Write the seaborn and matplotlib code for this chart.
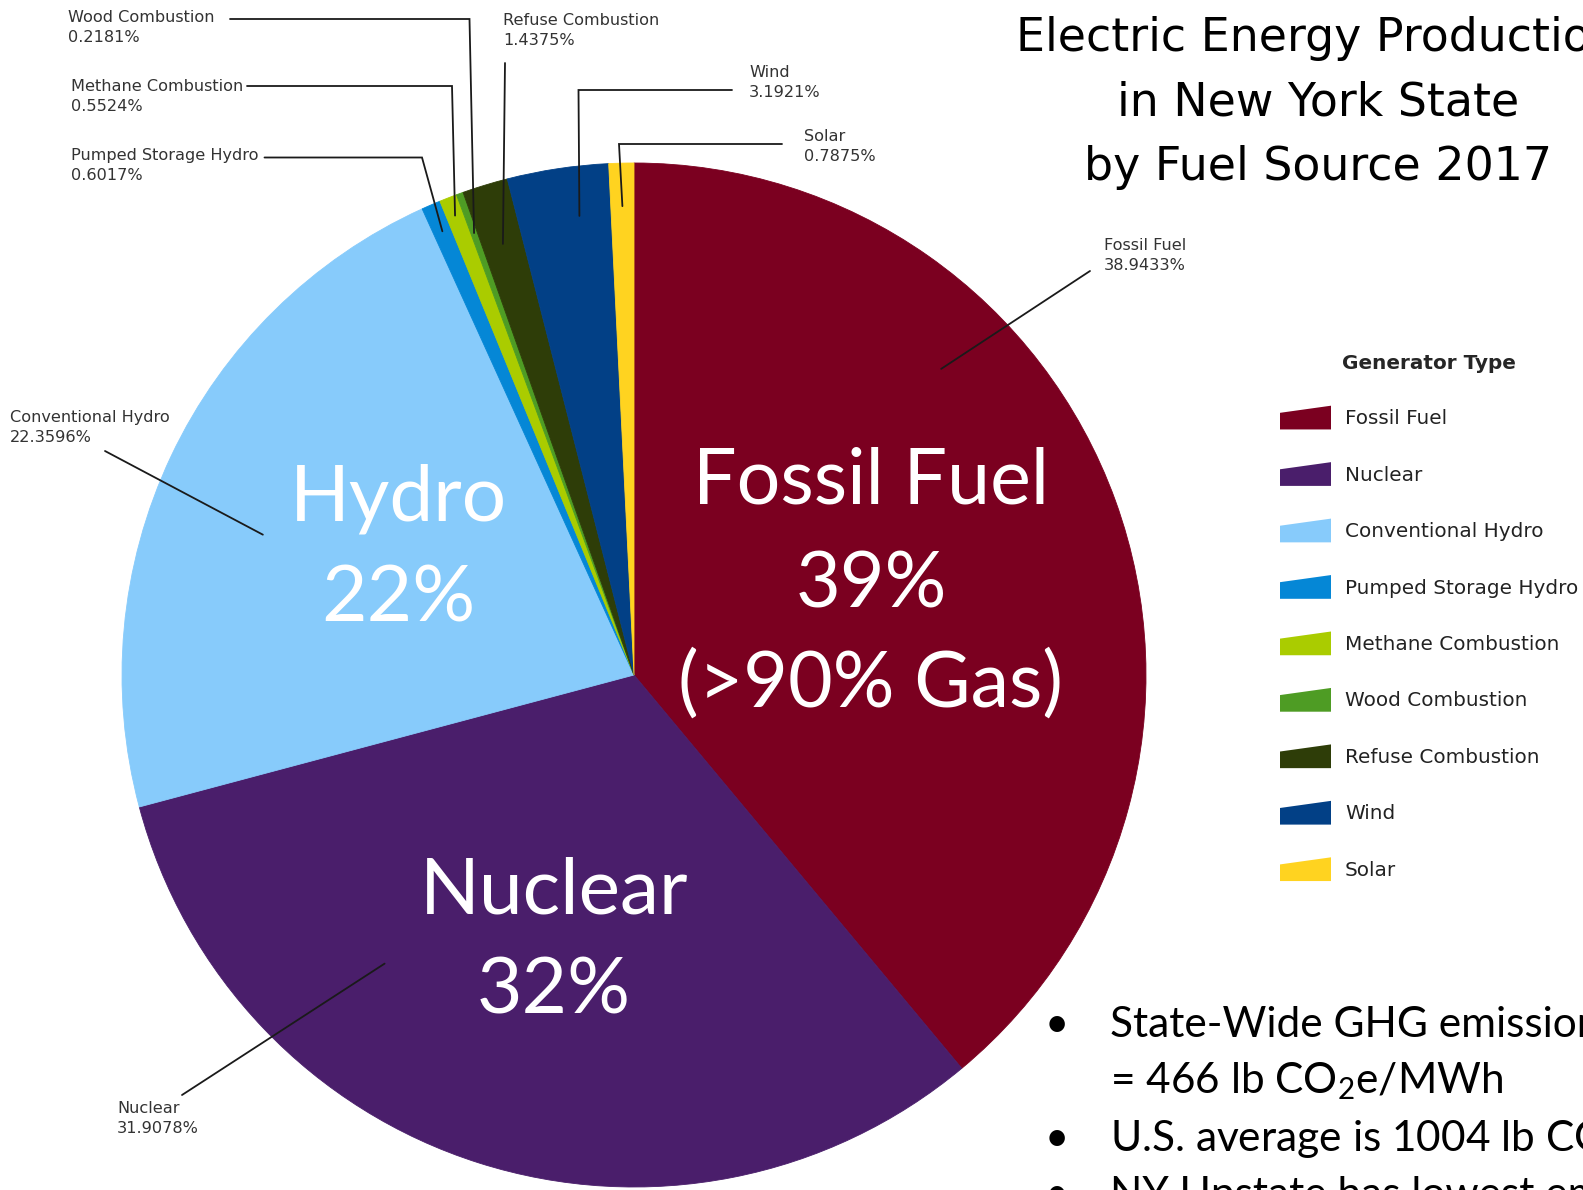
import numpy as np
import matplotlib
matplotlib.use("Agg")
import matplotlib.pyplot as plt
import seaborn as sns
from matplotlib.patches import Polygon, Patch
from matplotlib.legend_handler import HandlerPatch

# ---------------- data ----------------
categories = ["Fossil Fuel", "Nuclear", "Conventional Hydro", "Pumped Storage Hydro",
              "Methane Combustion", "Wood Combustion", "Refuse Combustion", "Wind", "Solar"]
shares = [38.9433, 31.9078, 22.3596, 0.6017, 0.5524, 0.2181, 1.4375, 3.1921, 0.7875]
share_text = ["38.9433%", "31.9078%", "22.3596%", "0.6017%", "0.5524%",
              "0.2181%", "1.4375%", "3.1921%", "0.7875%"]
colors = ["#7B0020", "#4A1E6B", "#87CBFB", "#0587D6", "#AACC00",
          "#4E9C24", "#2E3D08", "#024086", "#FFD320"]
big_fossil = ["Fossil Fuel", "39%", "(>90% Gas)"]
big_hydro = ["Hydro", "22%"]
big_nuclear = ["Nuclear", "32%"]
title_lines = ["Electric Energy Production", "in New York State", "by Fuel Source 2017"]
bullet_lines = ["State-Wide GHG emissions", "= 466 lb CO$_2$e/MWh",
                "U.S. average is 1004 lb CO$_2$e/MWh", "NY Upstate has lowest emissions"]
legend_title = "Generator Type"

# ---------------- style ----------------
sns.set_theme(style="white")
plt.rcParams["font.family"] = ["DejaVu Sans"]
plt.rcParams["mathtext.default"] = "regular"
palette = sns.color_palette(colors)

W, H = 1583, 1190
fig = plt.figure(figsize=(W / 100, H / 100), dpi=100)
fig.patch.set_facecolor("white")

CX, CY, R = 634, 675, 512
ax = fig.add_axes([(CX - R) / W, (H - CY - R) / H, 2 * R / W, 2 * R / H])
wedges, _ = ax.pie(shares, colors=palette, startangle=90, counterclock=False, radius=1,
                   wedgeprops=dict(linewidth=0.6))
for w in wedges:
    w.set_edgecolor(w.get_facecolor())
ax.set_xlim(-1, 1)
ax.set_ylim(-1, 1)
ax.set_aspect("equal")
ax.axis("off")


def P(px, py):
    return ((px - CX) / R, (CY - py) / R)


def anchor(i, frac, dtheta=0.0):
    th = np.deg2rad((wedges[i].theta1 + wedges[i].theta2) / 2 + dtheta)
    return (frac * np.cos(th), frac * np.sin(th))


# leader lines: (index, anchor frac, angle offset, route points in px, label top-left px)
leaders = [
    (0, 0.847, 25.0, [(1090, 271)], (1104, 238)),
    (1, 0.745, -23.2, [(182, 1095)], (117, 1101)),
    (2, 0.775, 4.6, [(105, 451)], (10, 410)),
    (3, 0.944, 0.0, [(422, 157.5), (264.5, 157.5)], (71, 148)),
    (4, 0.963, 0.0, [(452, 86), (247, 86)], (71, 79)),
    (5, 0.918, 0.0, [(469.5, 19), (230, 19)], (68, 10)),
    (6, 0.880, 0.0, [(505, 63)], (503, 13)),
    (7, 0.903, -1.8, [(578.5, 90), (732, 90)], (749, 65)),
    (8, 0.916, 0.0, [(619, 144), (782, 144)], (804, 129)),
]
for i, frac, dth, route, lab in leaders:
    pts = [anchor(i, frac, dth)] + [P(*p) for p in route]
    xs, ys = zip(*pts)
    ax.plot(xs, ys, color="#1a1a1a", lw=1.3, clip_on=False, solid_joinstyle="miter")
    tx, ty = P(*lab)
    ax.text(tx, ty, f"{categories[i]}\n{share_text[i]}", ha="left", va="top",
            fontsize=11.6, color="#333333", linespacing=1.45, clip_on=False)

# big white labels
big_font = ["Lato", "DejaVu Sans"]
for lines, x, baselines, fs in [(big_fossil, 871, [504, 607, 707], 55.5),
                                (big_hydro, 398, [520, 622], 56.5),
                                (big_nuclear, 554, [913, 1014], 56.5)]:
    for s, yb in zip(lines, baselines):
        tx, ty = P(x, yb)
        ax.text(tx, ty, s, ha="center", va="baseline", fontsize=fs, color="white",
                family=big_font, clip_on=False)

# title
for s, yb in zip(title_lines, [51, 115, 180]):
    fig.text(1318 / W, 1 - yb / H, s, ha="center", va="baseline", fontsize=33,
             color="black", family=["DejaVu Sans"])

# bullets
for k, (s, yb) in enumerate(zip(bullet_lines, [1037, 1093, 1151, 1207])):
    if k != 1:
        fig.text(1057 / W, 1 - yb / H, "•", ha="center", va="baseline", fontsize=30,
                 color="black", family=big_font)
    fig.text(1110 / W, 1 - yb / H, s, ha="left", va="baseline", fontsize=30.5,
             color="black", family=big_font)


# legend with trapezoid swatches
def trap(legend, orig_handle, xdescent, ydescent, width, height, fontsize):
    x0, y0 = -xdescent, -ydescent
    return Polygon([[x0, y0], [x0 + width, y0], [x0 + width, y0 + height],
                    [x0, y0 + height * 0.70]], closed=True)


handles = [Patch(facecolor=c, edgecolor="none", label=n) for c, n in zip(palette, categories)]
leg = fig.legend(handles=handles, loc="upper left",
                 bbox_to_anchor=(1280 / W, 1 - 354 / H), bbox_transform=fig.transFigure,
                 frameon=False, fontsize=14.4, title=legend_title,
                 title_fontproperties={"weight": "bold", "size": 14.4},
                 handler_map={Patch: HandlerPatch(patch_func=trap)},
                 handlelength=2.55, handleheight=1.45, handletextpad=0.7,
                 labelspacing=1.635, borderpad=0, borderaxespad=0)
for t in leg.get_texts():
    t.set_color("#222222")

fig.savefig("out.png", dpi=100, facecolor="white")
